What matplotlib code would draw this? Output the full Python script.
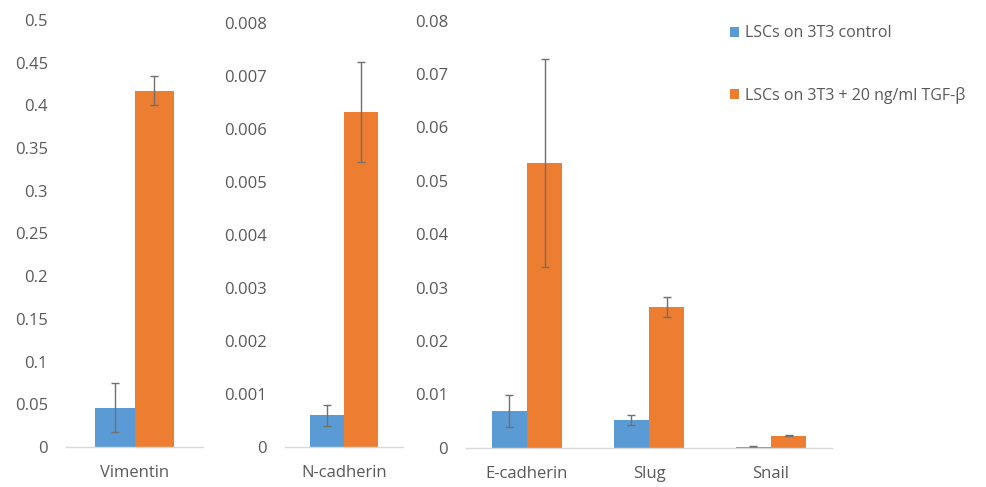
import matplotlib.pyplot as plt
import numpy as np
from matplotlib.ticker import MultipleLocator, FuncFormatter

genes = ["Vimentin", "N-cadherin", "E-cadherin", "Slug", "Snail"]
control = [0.046, 0.00060, 0.0069, 0.0052, 0.0002]
control_err = [0.029, 0.0002, 0.003, 0.001, 0.0001]
tgf = [0.417, 0.00632, 0.0534, 0.0263, 0.00228]
tgf_err = [0.017, 0.00094, 0.0195, 0.0019, 0.0001]

series_labels = ["LSCs on 3T3 control", "LSCs on 3T3 + 20 ng/ml TGF-β"]

# which genes go in which panel, with the y-axis range of each panel
panel_genes = [[0], [1], [2, 3, 4]]
panel_ymax = [0.5, 0.008, 0.08]
panel_ystep = [0.05, 0.001, 0.01]

blue = "#5B9BD5"
orange = "#ED7D31"
text_col = "#595959"

plt.rcParams["font.family"] = ["Open Sans", "DejaVu Sans"]

fig = plt.figure(figsize=(9.87, 4.87), dpi=100)

# axes rectangles in pixels: left, right, y of zero, y of top
rects = [(66, 203, 447, 20), (285, 403, 447, 22.7), (466, 832, 447.7, 20.7)]
W, H = 987, 487
width = 0.29

for idx, ymax, step, (x0, x1, yb, yt) in zip(panel_genes, panel_ymax, panel_ystep, rects):
    ax = fig.add_axes([x0 / W, (H - yb) / H, (x1 - x0) / W, (yb - yt) / H])
    x = np.arange(len(idx))
    c = [control[i] for i in idx]
    ce = [control_err[i] for i in idx]
    t = [tgf[i] for i in idx]
    te = [tgf_err[i] for i in idx]
    ekw = dict(ecolor="#707070", elinewidth=1, capsize=3, capthick=1)
    b1 = ax.bar(x - width / 2, c, width, color=blue, yerr=ce, error_kw=ekw,
                label=series_labels[0])
    b2 = ax.bar(x + width / 2, t, width, color=orange, yerr=te, error_kw=ekw,
                label=series_labels[1])
    ax.set_xlim(-0.5, len(idx) - 0.5)
    ax.set_ylim(0, ymax)
    ax.yaxis.set_major_locator(MultipleLocator(step))
    ax.yaxis.set_major_formatter(FuncFormatter(lambda v, p: "%g" % round(v, 6)))
    ax.set_xticks(x)
    ax.set_xticklabels([genes[i] for i in idx])
    for s in ["top", "right", "left"]:
        ax.spines[s].set_visible(False)
    ax.spines["bottom"].set_color("#d9d9d9")
    ax.spines["bottom"].set_linewidth(1)
    ax.tick_params(axis="both", length=0, labelsize=12, colors=text_col)
    ax.tick_params(axis="y", pad=13)
    ax.tick_params(axis="x", pad=13)

fig.legend(handles=[b1, b2], loc="upper left", bbox_to_anchor=(716 / W, 1 - 11 / H),
           frameon=False, fontsize=11.5, labelcolor=text_col,
           handlelength=0.55, handleheight=0.55, handletextpad=0.35,
           labelspacing=2.85)

fig.savefig("out.png", dpi=100)
